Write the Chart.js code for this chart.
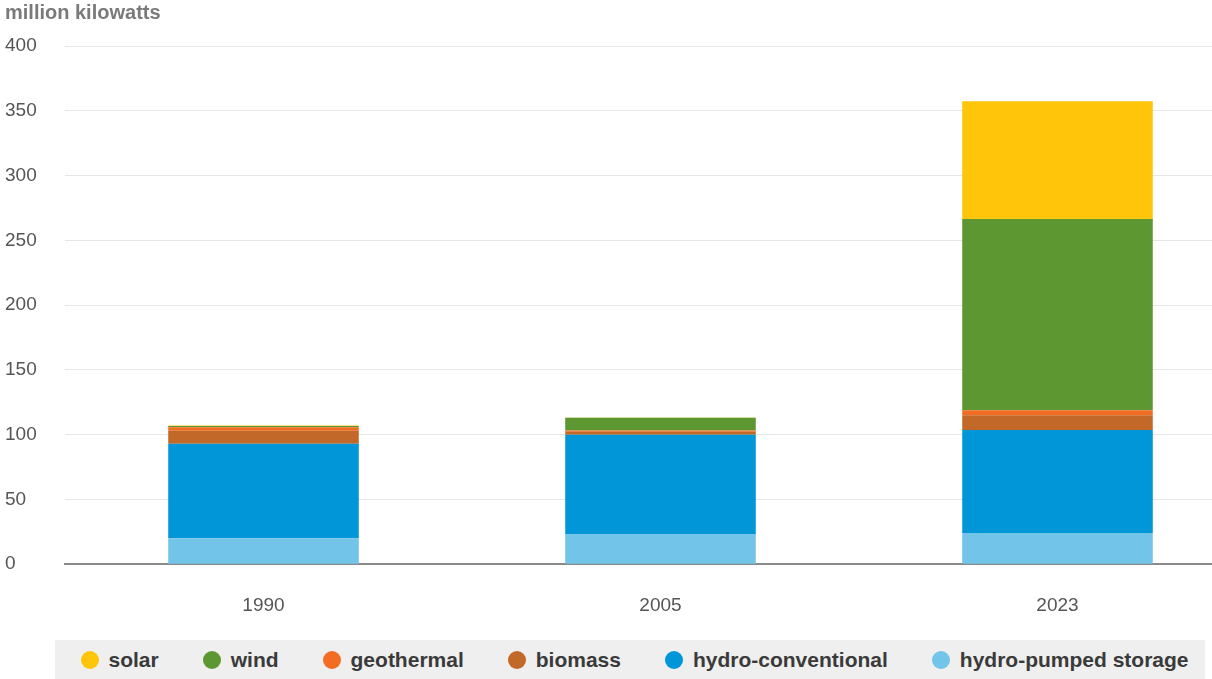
<!DOCTYPE html>
<html>
<head>
<meta charset="utf-8">
<script src="https://cdn.jsdelivr.net/npm/chart.js@4.4.1/dist/chart.umd.min.js"></script>
<style>
  html, body { margin: 0; padding: 0; background: #fff; width: 1212px; height: 679px; overflow: hidden; }
  #wrap { position: relative; width: 1212px; height: 679px; overflow: hidden; }
  #c { position: absolute; left: 0; top: 0; }
  #legend {
    position: absolute; left: 55px; top: 640px; width: 1150px; height: 39px;
    background: #efefef; display: flex; align-items: center; justify-content: center;
    font-family: "Liberation Sans", Arial, sans-serif; font-weight: bold; font-size: 21px; color: #3a3a3a;
    padding-left: 9px; box-sizing: border-box;
  }
  .item { display: flex; align-items: center; margin: 0 22px; white-space: nowrap; }
  .dot { width: 18px; height: 18px; border-radius: 50%; margin-right: 10px; flex: none; }
</style>
</head>
<body>
<div id="wrap">
  <canvas id="c" width="1256" height="667"></canvas>
  <div id="legend"></div>
</div>
<script>
// ---- data (million kilowatts) ----
const years = ["1990", "2005", "2023"];
const hydroPumped = [20, 23, 24];
const hydroConventional = [73, 77, 79.5];
const biomass = [10, 2.2, 11.5];
const geothermal = [2.7, 1.0, 3.9];
const wind = [1.0, 9.8, 147.5];
const solar = [0.3, 0.3, 91];
const yTicks = [0, 50, 100, 150, 200, 250, 300, 350, 400];
const unitLabel = "million kilowatts";

// stacking order bottom -> top
const series = [
  { label: "hydro-pumped storage", data: hydroPumped, color: "#73C4E9" },
  { label: "hydro-conventional", data: hydroConventional, color: "#0096D7" },
  { label: "biomass", data: biomass, color: "#C2692A" },
  { label: "geothermal", data: geothermal, color: "#F26C22" },
  { label: "wind", data: wind, color: "#5D9732" },
  { label: "solar", data: solar, color: "#FFC50A" }
];

const datasets = series.map(s => ({
  label: s.label,
  data: s.data,
  backgroundColor: s.color,
  borderWidth: 0,
  barPercentage: 0.48,
  categoryPercentage: 1.0
}));

const chart = new Chart(document.getElementById("c"), {
  type: "bar",
  data: { labels: years, datasets },
  options: {
    responsive: false,
    animation: false,
    layout: { padding: { left: 5, right: 0, top: 0, bottom: 20 } },
    plugins: {
      legend: { display: false },
      tooltip: { enabled: false },
      title: {
        display: true,
        text: unitLabel,
        align: "start",
        color: "#7a7a7a",
        font: { family: "Liberation Sans", size: 20, weight: "bold" },
        padding: { top: 1, bottom: 21 }
      }
    },
    scales: {
      x: {
        stacked: true,
        grid: { display: false, drawTicks: false },
        border: { display: true, color: "#8a8a8a", width: 2 },
        ticks: {
          color: "#555",
          font: { family: "Liberation Sans", size: 19 },
          padding: 30
        }
      },
      y: {
        stacked: true,
        min: 0,
        max: 400,
        afterBuildTicks: (scale) => { scale.ticks = yTicks.map(v => ({ value: v })); },
        afterFit: (scale) => { scale.width = 60; },
        grid: { color: "#e6e6e6", lineWidth: 1, drawTicks: false },
        border: { display: false },
        ticks: {
          color: "#555",
          crossAlign: "far",
          font: { family: "Liberation Sans", size: 19 },
          padding: 0
        }
      }
    }
  }
});

// HTML legend (top of stack first)
const legendEl = document.getElementById("legend");
series.slice().reverse().forEach(s => {
  const item = document.createElement("div");
  item.className = "item";
  const dot = document.createElement("span");
  dot.className = "dot";
  dot.style.background = s.color;
  const txt = document.createElement("span");
  txt.textContent = s.label;
  item.appendChild(dot);
  item.appendChild(txt);
  legendEl.appendChild(item);
});
</script>
</body>
</html>
